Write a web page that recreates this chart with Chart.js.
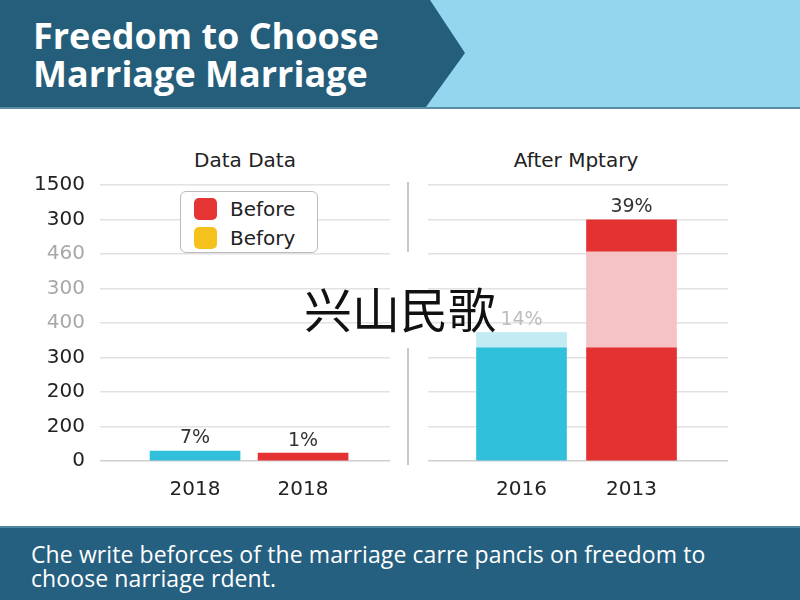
<!DOCTYPE html>
<html>
<head>
<meta charset="utf-8">
<script src="https://cdn.jsdelivr.net/npm/chart.js@4.4.0/dist/chart.umd.min.js"></script>
<style>
  body { margin: 0; width: 800px; height: 600px; position: relative; overflow: hidden; background: #fff; font-family: "Open Sans", sans-serif; }
  .hdr { position: absolute; left: 0; top: 0; width: 800px; height: 107px; background: #94d6ee; }
  .hdr-dark { position: absolute; left: 0; top: 0; width: 800px; height: 107px; background: #255e7b;
    clip-path: polygon(0 0, 430px 0, 465px 53px, 426px 107px, 0 107px); }
  .hdr-line { position: absolute; left: 0; top: 107px; width: 800px; height: 2px; background: #5b8ea6; }
  .title { position: absolute; left: 33px; top: 17px; color: #fff; font-weight: 700; font-size: 36px; line-height: 38px; letter-spacing: 0px; }
  .ftr { position: absolute; left: 0; top: 526px; width: 800px; height: 74px; background: #266080; border-top: 2px solid #4f86a0; }
  .ftr-text { position: absolute; left: 31px; top: 542px; color: #fff; font-size: 23px; line-height: 24px; letter-spacing: 0.1px; }
  .ctitle { position: absolute; top: 148px; font-family: "DejaVu Sans", sans-serif; font-size: 20px; color: #222; transform: translateX(-50%); white-space: nowrap; }
  .legend { position: absolute; left: 180px; top: 191px; width: 136px; height: 60px; border: 1.5px solid #bbb; border-radius: 6px; background: #fff; }
  .li { position: absolute; left: 13px; height: 24px; font-family: "DejaVu Sans", sans-serif; font-size: 20px; line-height: 24px; color: #222; }
  .sw { display: inline-block; width: 23px; height: 22px; border-radius: 5px; vertical-align: -4px; margin-right: 13px; }
  .sep { position: absolute; left: 407px; width: 2px; background: #c8c8c8; }
  canvas { position: absolute; }
  .over { position: absolute; left: 400px; top: 278px; transform: translateX(-50%); font-family: "Noto Sans CJK SC", sans-serif; font-size: 48px; line-height: 58px; color: #111; white-space: nowrap; }
</style>
</head>
<body>
<div class="hdr"></div>
<div class="hdr-dark"></div>
<div class="hdr-line"></div>
<div class="title">Freedom to Choose<br>Marriage Marriage</div>

<div class="ctitle" style="left:245px">Data Data</div>
<div class="ctitle" style="left:576px">After Mptary</div>

<div class="sep" style="top:182px;height:70px"></div>
<div class="sep" style="top:348px;height:117px"></div>

<div style="position:absolute;left:0;top:130px;width:400px;height:380px"><canvas id="left" width="400" height="380"></canvas></div>
<div style="position:absolute;left:400px;top:130px;width:400px;height:380px"><canvas id="right" width="400" height="380"></canvas></div>

<div class="legend" id="legend"></div>

<div class="over">兴山民歌</div>

<div class="ftr"></div>
<div class="ftr-text">Che write beforces of the marriage carre pancis on freedom to<br>choose narriage rdent.</div>

<script>
// y tick labels, bottom to top
const yTickLabels = ['0', '200', '200', '300', '400', '300', '460', '300', '1500'];

const leftYears = ['2018', '2018'];
const leftValues = [0.29, 0.23];
const leftPct = ['7%', '1%'];

const rightYears = ['2016', '2013'];
const rightBase = [3.28, 3.28];
const rightMid = [0.43, 2.78];
const rightTop = [0, 0.93];
const rightPct = ['14%', '39%'];

const legendNames = ['Before', 'Befory'];
const legendColors = ['#e43434', '#f5c21d'];

const CYAN = '#31c0da', CYAN_L = '#c3ebf3', RED = '#e43232', PINK = '#f5c3c3';
const FONT = 'DejaVu Sans';

// html legend
const legendBox = document.getElementById('legend');
legendNames.forEach((n, i) => {
    const d = document.createElement('div');
    d.className = 'li';
    d.style.top = (5 + i * 29) + 'px';
    d.innerHTML = '<span class="sw" style="background:' + legendColors[i] + '"></span>' + n;
    legendBox.appendChild(d);
});

const pctPlugin = {
    id: 'pct',
    afterDatasetsDraw(chart, args, opts) {
        if (!opts || !opts.labels) return;
        const ctx = chart.ctx;
        const xs = chart.scales.x, ys = chart.scales.y;
        ctx.save();
        ctx.font = '19px "' + FONT + '"';
        ctx.textAlign = 'center';
        ctx.textBaseline = 'bottom';
        opts.labels.forEach((txt, i) => {
            let total = 0;
            chart.data.datasets.forEach(ds => { total += ds.data[i].y; });
            ctx.fillStyle = opts.colors[i];
            ctx.fillText(txt, xs.getPixelForValue(i + 1), ys.getPixelForValue(total) - 3);
        });
        ctx.restore();
    }
};

function makeOptions(years, xmin, xmax, yWidth, padRight, showY, pct) {
    return {
        responsive: false,
        animation: false,
        layout: { padding: { top: 55, right: padRight, left: 0, bottom: 0 } },
        plugins: { legend: { display: false }, tooltip: { enabled: false }, pct: pct },
        scales: {
            x: {
                type: 'linear', min: xmin, max: xmax, stacked: true, offset: false,
                grid: { display: false }, border: { display: false },
                afterBuildTicks: s => { s.ticks = [{ value: 1 }, { value: 2 }]; },
                afterFit: s => { s.height = 49; },
                ticks: { padding: 9, color: '#222', font: { size: 20, family: FONT },
                    callback: v => years[v - 1] }
            },
            y: {
                min: 0, max: 8, stacked: true,
                border: { display: false },
                grid: { color: ctx => ctx.tick.value === 0 ? '#cfcfcf' : '#e2e2e2', lineWidth: 1.5, drawTicks: false },
                afterFit: s => { s.width = yWidth; },
                ticks: {
                    display: showY, stepSize: 1, padding: 15,
                    font: { size: 20, family: FONT },
                    color: ctx => (ctx.tick.value >= 4 && ctx.tick.value <= 6) ? '#a8a8a8' : '#222',
                    callback: (v, i) => yTickLabels[i]
                }
            }
        }
    };
}

const toPts = arr => arr.map((v, i) => ({ x: i + 1, y: v }));

new Chart(document.getElementById('left').getContext('2d'), {
    type: 'bar',
    data: {
        datasets: [{ data: toPts(leftValues), backgroundColor: [CYAN, RED], barThickness: 90 }]
    },
    options: makeOptions(leftYears, 0.12, 2.805, 100, 10, true,
        { labels: leftPct, colors: ['#333', '#333'] }),
    plugins: [pctPlugin]
});

new Chart(document.getElementById('right').getContext('2d'), {
    type: 'bar',
    data: {
        datasets: [
            { data: toPts(rightBase), backgroundColor: [CYAN, RED], barThickness: 90 },
            { data: toPts(rightMid), backgroundColor: [CYAN_L, PINK], barThickness: 90 },
            { data: toPts(rightTop), backgroundColor: [CYAN, RED], barThickness: 90 }
        ]
    },
    options: makeOptions(rightYears, 0.15, 2.877, 28, 72, false,
        { labels: rightPct, colors: ['#bdbdbd', '#333'] }),
    plugins: [pctPlugin]
});
</script>
</body>
</html>
